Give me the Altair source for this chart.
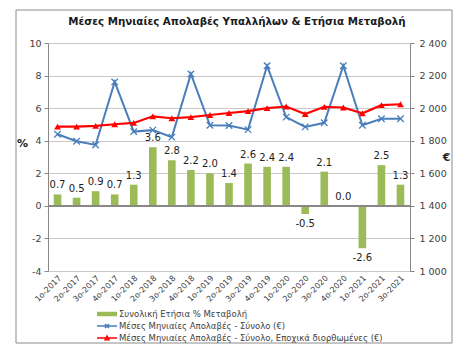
import altair as alt
import pandas as pd

quarters = ["1ο-2017", "2ο-2017", "3ο-2017", "4ο-2017", "1ο-2018", "2ο-2018", "3ο-2018",
            "4ο-2018", "1ο-2019", "2ο-2019", "3ο-2019", "4ο-2019", "1ο-2020", "2ο-2020",
            "3ο-2020", "4ο-2020", "1ο-2021", "2ο-2021", "3ο-2021"]
annual_change = [0.7, 0.5, 0.9, 0.7, 1.3, 3.6, 2.8, 2.2, 2.0, 1.4, 2.6, 2.4, 2.4, -0.5, 2.1, 0.0, -2.6, 2.5, 1.3]
earnings_total = [1840, 1797, 1774, 2161, 1856, 1865, 1822, 2210, 1895, 1893, 1868, 2260,
                  1945, 1885, 1910, 2260, 1895, 1935, 1935]
earnings_sa = [1886, 1887, 1891, 1901, 1909, 1950, 1938, 1945, 1958, 1970, 1982, 2000,
               2010, 1964, 2008, 2004, 1968, 2018, 2024]
series_names = ["Συνολική Ετήσια % Μεταβολή",
                "Μέσες Μηνιαίες Απολαβές - Σύνολο (€)",
                "Μέσες Μηνιαίες Απολαβές - Σύνολο, Εποχικά διορθωμένες (€)"]
series_colors = ["#9bbb59", "#4a7ebb", "#ff0000"]
left_ticks = [-4, -2, 0, 2, 4, 6, 8, 10]
right_ticks = [1000, 1200, 1400, 1600, 1800, 2000, 2200, 2400]
title_text = "Μέσες Μηνιαίες Απολαβές Υπαλλήλων & Ετήσια Μεταβολή"

bar_df = pd.DataFrame({"q": quarters, "pct": annual_change,
                       "label": [f"{v:.1f}" for v in annual_change]})
line_df = pd.DataFrame({"q": quarters * 2,
                        "series": [series_names[1]] * len(quarters) + [series_names[2]] * len(quarters),
                        "value": earnings_total + earnings_sa})
legend_df = pd.DataFrame({"series": series_names})
frame_df = pd.DataFrame({"b": [0]})

FONT = "DejaVu Sans"
W, H = 362, 228
TXT = "#404040"

x_enc = alt.X("q:N", sort=quarters, title=None,
              scale=alt.Scale(paddingInner=0.6, paddingOuter=0.3),
              axis=alt.Axis(labelAngle=-45, labelAlign="right", labelBaseline="top",
                            labelFontSize=8, labelColor=TXT, labelFont=FONT,
                            domain=False, ticks=False, labelPadding=3, grid=False,
                            labelOverlap=False))

left_scale = alt.Scale(domain=[-4, 10], nice=False, zero=False)
left_axis = alt.Axis(values=left_ticks, labelExpr="'' + datum.value", title="%",
                     titleAngle=0, titleX=-26, titleY=100, titleAlign="center",
                     titleBaseline="middle", titleFontSize=11, titleFont=FONT,
                     titleFontWeight="bold", titleColor="#222222",
                     labelFontSize=9.5, labelColor=TXT, labelFont=FONT,
                     labelOverlap=False,
                     grid=True, gridColor="#c8c8c8", domainColor="#888888",
                     tickColor="#888888", tickSize=4, labelPadding=3)
y_left = alt.Y("pct:Q", scale=left_scale, axis=left_axis)

y_right = alt.Y("value:Q", scale=alt.Scale(domain=[1000, 2400], nice=False, zero=False),
                axis=alt.Axis(orient="right", values=right_ticks,
                              labelExpr="replace(format(datum.value, ','), ',', ' ')",
                              title="€", titleAngle=0, titleX=36, titleY=114,
                              titleAlign="center", titleBaseline="middle", titleFontSize=11,
                              titleFont=FONT, titleFontWeight="bold", titleColor="#222222",
                              labelFontSize=9.5, labelColor=TXT, labelFont=FONT,
                              labelOverlap=False,
                              grid=False, domainColor="#888888", tickColor="#888888",
                              tickSize=4, labelPadding=5))

bars = alt.Chart(bar_df).mark_bar(color="#9bbb59").encode(x=x_enc, y=y_left, y2=alt.datum(0))
txt_pos = alt.Chart(bar_df).transform_filter("datum.pct >= 0").mark_text(
    baseline="bottom", dy=-4, fontSize=10, font=FONT, color="#222222"
).encode(x=x_enc, y=y_left, text="label:N")
txt_neg = alt.Chart(bar_df).transform_filter("datum.pct < 0").mark_text(
    baseline="top", dy=5, fontSize=10, font=FONT, color="#222222"
).encode(x=x_enc, y=y_left, text="label:N")
zero_rule = alt.Chart(bar_df).mark_rule(color="#888888", strokeWidth=1).encode(
    y=alt.Y(datum=0, scale=left_scale, axis=left_axis))
frame = alt.Chart(frame_df).mark_rect(fill="white", fillOpacity=0, stroke="#8c8c8c", strokeWidth=1).encode(
    x=alt.value(-32), x2=alt.value(404), y=alt.value(-33), y2=alt.value(300))

bar_group = alt.layer(frame, bars, zero_rule, txt_pos, txt_neg)

blue_line = alt.Chart(line_df).transform_filter(alt.datum.series == series_names[1]).mark_line(
    color="#4a7ebb", strokeWidth=2).encode(x=x_enc, y=y_right)
blue_pts = alt.Chart(line_df).transform_filter(alt.datum.series == series_names[1]).mark_point(
    shape="M-1,-1L1,1M-1,1L1,-1", size=42, filled=False, color="#4a7ebb",
    strokeWidth=1.3, opacity=1).encode(x=x_enc, y=y_right)
red_line = alt.Chart(line_df).transform_filter(alt.datum.series == series_names[2]).mark_line(
    color="#ff0000", strokeWidth=2.2).encode(x=x_enc, y=y_right)
red_pts = alt.Chart(line_df).transform_filter(alt.datum.series == series_names[2]).mark_point(
    shape="triangle-up", filled=True, size=45, color="#ff0000", opacity=1).encode(x=x_enc, y=y_right)

legend_paths = ["M-1,-0.3H3M-1,-0.1H3M-1,0.1H3M-1,0.3H3",
                "M-1,0H3M0.6,-0.4L1.4,0.4M0.6,0.4L1.4,-0.4",
                "M-1,0H3M0.6,0.35L1,-0.4L1.4,0.35Z"]
leg = alt.Legend(title=None, orient="none", legendX=48, legendY=265, direction="vertical",
                 symbolSize=100, symbolStrokeWidth=1.5, labelFont=FONT, labelFontSize=8.5,
                 labelColor=TXT, labelOffset=11, rowPadding=1, symbolOpacity=1, labelLimit=400)
legend_layer = alt.Chart(legend_df).mark_point(filled=False, opacity=0, strokeWidth=1.5).encode(
    color=alt.Color("series:N", scale=alt.Scale(domain=series_names, range=series_colors), legend=leg),
    shape=alt.Shape("series:N", scale=alt.Scale(domain=series_names, range=legend_paths), legend=leg))

line_group = alt.layer(blue_line, red_line, blue_pts, red_pts, legend_layer)

chart = alt.layer(bar_group, line_group).resolve_scale(y="independent").properties(
    width=W, height=H,
    padding={"left": 40, "top": 35, "right": 46, "bottom": 75},
    autosize=alt.AutoSizeParams(type="none"),
    title=alt.TitleParams(title_text, font=FONT, fontSize=10.3, fontWeight="bold",
                          color="#1a1a1a", anchor="middle", offset=-18, dx=8),
).configure_view(stroke=None).configure(background="white")

chart.save("out.html", embed_options={"renderer": "svg", "actions": False})
